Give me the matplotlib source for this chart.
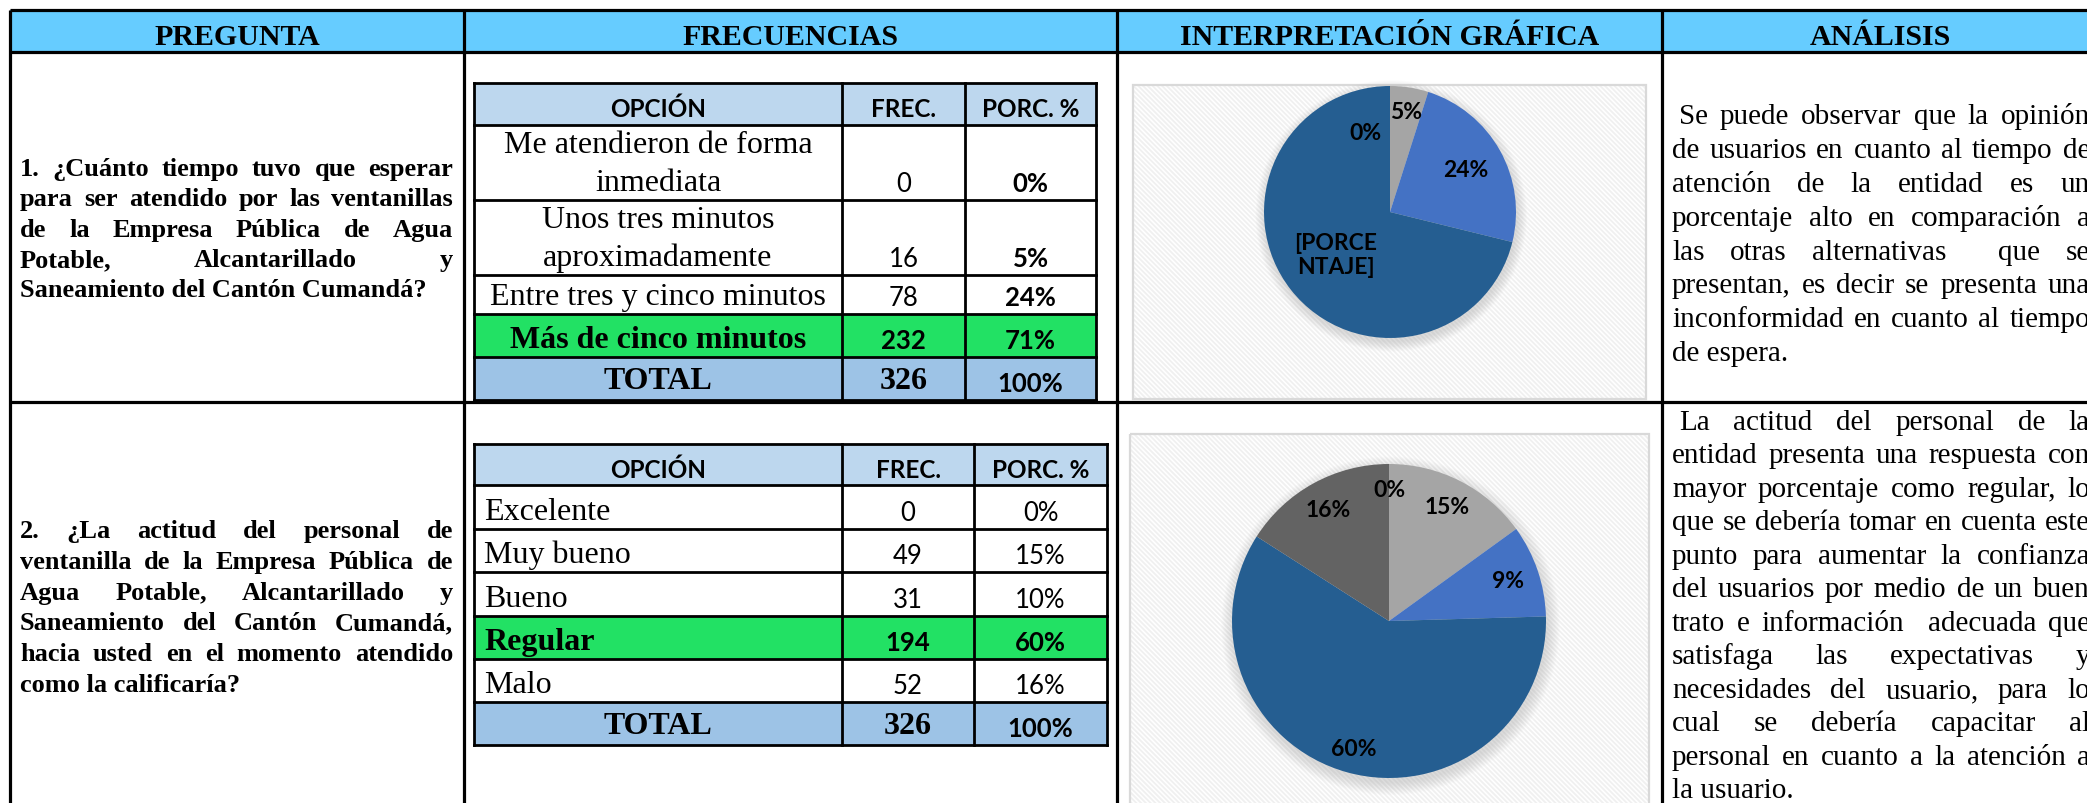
import numpy as np
import matplotlib.pyplot as plt
from matplotlib.patches import Rectangle, Circle

W, H = 2087, 804
SERIF = 'Liberation Serif'
SANS = 'Lato'
plt.rcParams['hatch.linewidth'] = 1.3

# ---- data -------------------------------------------------------------
headers = ['PREGUNTA', 'FRECUENCIAS', 'INTERPRETACIÓN GRÁFICA', 'ANÁLISIS']
col_titles = ['OPCIÓN', 'FREC.', 'PORC. %']

q1_text = ['1. ¿Cuánto tiempo tuvo que esperar',
           'para ser atendido por las ventanillas',
           'de la Empresa Pública de Agua',
           'Potable, Alcantarillado y',
           'Saneamiento del Cantón Cumandá?']
q1_options = [['Me atendieron de forma', 'inmediata'],
              ['Unos tres minutos', 'aproximadamente'],
              ['Entre tres y cinco minutos'],
              ['Más de cinco minutos']]
q1_freq = [0, 16, 78, 232]
q1_pct = ['0%', '5%', '24%', '71%']
q1_total = ['TOTAL', '326', '100%']
q1_pie_labels = ['0%', '5%', '24%', '[PORCE\nNTAJE]']
q1_analysis = ['Se puede observar que la opinión',
               'de usuarios en cuanto al tiempo de',
               'atención de la entidad es un',
               'porcentaje alto en comparación a',
               'las otras alternativas  que se',
               'presentan, es decir se presenta una',
               'inconformidad en cuanto al tiempo',
               'de espera.']

q2_text = ['2. ¿La actitud del personal de',
           'ventanilla de la Empresa Pública de',
           'Agua Potable, Alcantarillado y',
           'Saneamiento del Cantón Cumandá,',
           'hacia usted en el momento atendido',
           'como la calificaría?']
q2_options = [['Excelente'], ['Muy bueno'], ['Bueno'], ['Regular'], ['Malo']]
q2_freq = [0, 49, 31, 194, 52]
q2_pct = ['0%', '15%', '10%', '60%', '16%']
q2_total = ['TOTAL', '326', '100%']
q2_pie_labels = ['0%', '15%', '9%', '60%', '16%']
q2_analysis = ['La actitud del personal de la',
               'entidad presenta una respuesta con',
               'mayor porcentaje como regular, lo',
               'que se debería tomar en cuenta este',
               'punto para aumentar la confianza',
               'del usuarios por medio de un buen',
               'trato e información  adecuada que',
               'satisfaga las expectativas y',
               'necesidades del usuario, para lo',
               'cual se debería capacitar al',
               'personal en cuanto a la atención a',
               'la usuario.']

q1_colors = ['#4472C4', '#A5A5A5', '#4472C4', '#255E91']
q2_colors = ['#4472C4', '#A5A5A5', '#4472C4', '#255E91', '#636363']

# ---- figure -----------------------------------------------------------
fig = plt.figure(figsize=(W / 100, H / 100), dpi=100)
ax = fig.add_axes([0, 0, 1, 1])
ax.set_xlim(0, W)
ax.set_ylim(H, 0)
ax.axis('off')
renderer = fig.canvas.get_renderer()


def justify(line, x0, x1, y, fs, weight='normal', last=False):
    if last:
        ax.text(x0, y, line, fontsize=fs, fontweight=weight, family=SERIF,
                va='baseline', ha='left')
        return
    words = line.split(' ')
    arts = [ax.text(0, y, w, fontsize=fs, fontweight=weight, family=SERIF,
                    va='baseline', ha='left') if w else None for w in words]
    widths = [a.get_window_extent(renderer).width if a else 0 for a in arts]
    gap = (x1 - x0 - sum(widths)) / max(len(words) - 1, 1)
    x = x0
    for a, w in zip(arts, widths):
        if a is not None:
            a.set_x(x)
        x += w + gap


def paragraph(lines, x0, x1, y0, dy, fs, weight='normal', indent=0):
    for i, line in enumerate(lines):
        justify(line, x0 + (indent if i == 0 else 0), x1, y0 + i * dy, fs,
                weight, last=(i == len(lines) - 1))


# outer grid
ax.add_patch(Rectangle((10, 11), 2090, 42, facecolor='#66CCFF', lw=0))
lw_out = 2.3
for yy in [11, 53, 403]:
    ax.plot([10, 2100], [yy, yy], color='black', lw=lw_out, solid_capstyle='butt')
for xx in [10, 464, 1117, 1662]:
    ax.plot([xx, xx], [11, 820], color='black', lw=lw_out, solid_capstyle='butt')
for h, cx in zip(headers, [237, 790, 1390, 1880]):
    ax.text(cx, 45, h, fontsize=21.5, fontweight='bold', family=SERIF,
            ha='center', va='baseline')

# question text
paragraph(q1_text, 20, 453, 176, 30.3, 19, 'bold')
paragraph(q2_text, 20, 453, 538, 30.8, 19, 'bold')

# analysis text
paragraph(q1_analysis, 1672, 2090, 124, 33.9, 21, indent=7)
paragraph(q2_analysis, 1672, 2090, 430, 33.5, 21, indent=7)


def draw_table(rows, cols, options, freq, pct, total, centered, pct_bold):
    hl = int(np.argmax(freq))
    x0, x1 = cols[0], cols[-1]
    ax.add_patch(Rectangle((x0, rows[0]), x1 - x0, rows[1] - rows[0],
                           facecolor='#BDD7EE', lw=0))
    ax.add_patch(Rectangle((x0, rows[hl + 1]), x1 - x0, rows[hl + 2] - rows[hl + 1],
                           facecolor='#22E164', lw=0))
    ax.add_patch(Rectangle((x0, rows[-2]), x1 - x0, rows[-1] - rows[-2],
                           facecolor='#9DC3E6', lw=0))
    for yy in rows:
        ax.plot([x0, x1], [yy, yy], color='black', lw=2.0, solid_capstyle='projecting')
    for xx in cols:
        ax.plot([xx, xx], [rows[0], rows[-1]], color='black', lw=2.0,
                solid_capstyle='projecting')
    cc = [(cols[i] + cols[i + 1]) / 2 for i in range(3)]
    for t, c in zip(col_titles, cc):
        ax.text(c, rows[0] + 33, t, fontsize=17.5, fontweight='bold', family=SANS,
                ha='center', va='baseline')
    for i, opt in enumerate(options):
        bot = rows[i + 2]
        bold = 'bold' if i == hl else 'normal'
        for j, ln in enumerate(opt):
            yb = bot - 10 - 38 * (len(opt) - 1 - j)
            if centered:
                ax.text(cc[0], yb, ln, fontsize=23, fontweight=bold, family=SERIF,
                        ha='center', va='baseline')
            else:
                ax.text(cols[0] + 10, yb, ln, fontsize=23, fontweight=bold,
                        family=SERIF, ha='left', va='baseline')
        ax.text(cc[1], bot - 9, str(freq[i]), fontsize=18.5, fontweight=bold,
                family=SANS, ha='center', va='baseline')
        pb = 'bold' if (pct_bold or i == hl) else 'normal'
        ax.text(cc[2], bot - 9, pct[i], fontsize=18.5, fontweight=pb,
                family=SANS, ha='center', va='baseline')
    bot = rows[-1]
    ax.text(cc[0], bot - 12, total[0], fontsize=23, fontweight='bold', family=SERIF,
            ha='center', va='baseline')
    ax.text(cc[1], bot - 12, total[1], fontsize=23, fontweight='bold', family=SERIF,
            ha='center', va='baseline')
    ax.text(cc[2], bot - 9, total[2], fontsize=18.5, fontweight='bold', family=SANS,
            ha='center', va='baseline')


draw_table([84, 126, 201, 276, 315, 358, 401], [474, 842, 965, 1096],
           q1_options, q1_freq, q1_pct, q1_total, True, True)
draw_table([445, 486, 530, 573, 617, 660, 703, 746], [474, 842, 974, 1107],
           q2_options, q2_freq, q2_pct, q2_total, False, False)


def chart_box(x0, y0, x1, y1):
    ax.add_patch(Rectangle((x0, y0), x1 - x0, y1 - y0, facecolor='white', lw=0))
    ax.add_patch(Rectangle((x0, y0), x1 - x0, y1 - y0, facecolor='none',
                           edgecolor='#F0F0F0', hatch='\\' * 7, lw=0))
    ax.add_patch(Rectangle((x0, y0), x1 - x0, y1 - y0, facecolor='none',
                           edgecolor='#D9D9D9', lw=1.6))


chart_box(1133, 86, 1646, 400)
chart_box(1130, 435, 1649, 830)


def draw_pie(values, colors, labels, dists, shifts, cx, cy, r):
    pad = 1.2
    pa = fig.add_axes([(cx - pad * r) / W, 1 - (cy + pad * r) / H,
                       2 * pad * r / W, 2 * pad * r / H])
    for k in range(12):
        pa.add_patch(Circle((0.01, -0.03), 1 + 0.007 * k, color='#8a8a8a',
                            alpha=0.022, lw=0))
    wedges, _ = pa.pie(values, colors=colors, startangle=90, counterclock=False,
                       radius=1, wedgeprops=dict(linewidth=0))
    pa.set_xlim(-pad, pad)
    pa.set_ylim(-pad, pad)
    pa.axis('off')
    for w, lab, d, s in zip(wedges, labels, dists, shifts):
        th = np.deg2rad((w.theta1 + w.theta2) / 2 + s)
        pa.text(d * np.cos(th), d * np.sin(th), lab, fontsize=16.5, fontweight='bold',
                family=SANS, ha='center', va='center', linespacing=1.2)


draw_pie(q1_freq, q1_colors, q1_pie_labels, [0.66, 0.81, 0.69, 0.55],
         [17, 0, 0, 0], 1390, 213, 126)
draw_pie(q2_freq, q2_colors, q2_pie_labels, [0.84, 0.82, 0.80, 0.845, 0.81],
         [0, 0, 0, 0, 0], 1389, 622, 157)

fig.savefig('out.png', dpi=100)
